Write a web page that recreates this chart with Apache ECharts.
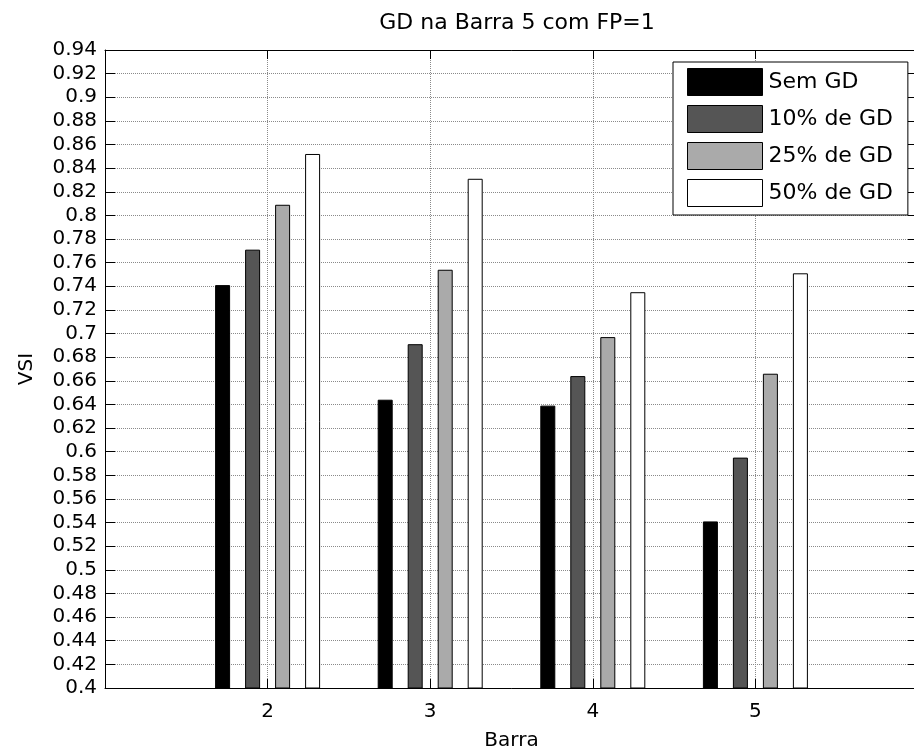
<!DOCTYPE html>
<html>
<head>
<meta charset="utf-8">
<script src="https://cdn.jsdelivr.net/npm/echarts@6/dist/echarts.min.js"></script>
<style>
html,body{margin:0;padding:0;background:#fff;overflow:hidden;width:914px;height:756px;}
#chart{width:924px;height:756px;}
</style>
</head>
<body>
<div id="chart"></div>
<script>
// Data
const titleText = 'GD na Barra 5 com FP=1';
const categories = [2, 3, 4, 5];
const xTickLabels = ['2', '3', '4', '5'];
const seriesNames = ['Sem GD', '10% de GD', '25% de GD', '50% de GD'];
const semGD  = [0.741, 0.644, 0.639, 0.541];
const gd10   = [0.771, 0.691, 0.664, 0.595];
const gd25   = [0.809, 0.754, 0.697, 0.666];
const gd50   = [0.852, 0.831, 0.735, 0.751];
const seriesColors = ['#000000', '#555555', '#aaaaaa', '#ffffff'];

const FONT = 'DejaVu Sans';
const allValues = [semGD, gd10, gd25, gd50];

const chart = echarts.init(document.getElementById('chart'), null, {renderer: 'canvas'});

const gridLine = {show: true, lineStyle: {color: '#8a8a8a', type: [1, 1], width: 1}};
const axisBlack = {show: true, lineStyle: {color: '#000', width: 1}};

const option = {
  animation: false,
  backgroundColor: '#fff',
  title: {
    text: titleText,
    left: 512,
    top: 7,
    textAlign: 'center',
    textStyle: {fontFamily: FONT, fontSize: 22, fontWeight: 'normal', color: '#000'}
  },
  grid: {left: 105, top: 50, width: 813, height: 640, containLabel: false},
  legend: {
    orient: 'vertical',
    left: 673,
    top: 62,
    padding: [6, 15, 8, 14],
    itemWidth: 75,
    itemHeight: 27,
    itemGap: 9,
    backgroundColor: '#fff',
    borderColor: '#000',
    borderWidth: 1,
    textStyle: {fontFamily: FONT, fontSize: 22, color: '#000', padding: [0, 0, 0, 1]},
    data: seriesNames.map((n, i) => ({
      name: n, icon: 'rect',
      itemStyle: {color: seriesColors[i], borderColor: '#000', borderWidth: 1}
    }))
  },
  xAxis: [
    {
      type: 'value', position: 'bottom', min: 1, max: 6, interval: 1,
      axisLine: axisBlack,
      axisTick: {show: true, inside: true, length: 9, lineStyle: {color: '#000'}},
      axisLabel: {
        fontFamily: FONT, fontSize: 20, color: '#000', margin: 14,
        formatter: v => { const k = categories.indexOf(v); return k >= 0 ? xTickLabels[k] : ''; }
      },
      splitLine: gridLine,
      name: 'Barra', nameLocation: 'middle', nameGap: 43,
      nameTextStyle: {fontFamily: FONT, fontSize: 20, color: '#000'}
    },
    {
      type: 'value', position: 'top', min: 1, max: 6, interval: 1,
      axisLine: axisBlack,
      axisTick: {show: true, inside: true, length: 9, lineStyle: {color: '#000'}},
      axisLabel: {show: false},
      splitLine: {show: false}
    }
  ],
  yAxis: [
    {
      type: 'value', position: 'left', min: 0.4, max: 0.94, interval: 0.02,
      axisLine: axisBlack,
      axisTick: {show: true, inside: true, length: 10, lineStyle: {color: '#000'}},
      axisLabel: {fontFamily: FONT, fontSize: 20, color: '#000', margin: 8},
      splitLine: gridLine,
      name: 'VSI', nameLocation: 'middle', nameGap: 68, nameRotate: 90,
      nameTextStyle: {fontFamily: FONT, fontSize: 20, color: '#000'}
    },
    {
      type: 'value', position: 'right', min: 0.4, max: 0.94, interval: 0.02,
      axisLine: axisBlack,
      axisTick: {show: true, inside: true, length: 10, lineStyle: {color: '#000'}},
      axisLabel: {show: false},
      splitLine: {show: false}
    }
  ],
  series: seriesNames.map((n, i) => ({
    name: n,
    type: 'bar',
    xAxisIndex: 0,
    yAxisIndex: 0,
    barWidth: 15,
    barGap: '100%',
    clip: true,
    itemStyle: {color: seriesColors[i], borderColor: '#000', borderWidth: 1},
    data: categories.map((c, j) => [c, allValues[i][j]])
  }))
};

chart.setOption(option);
</script>
</body>
</html>
